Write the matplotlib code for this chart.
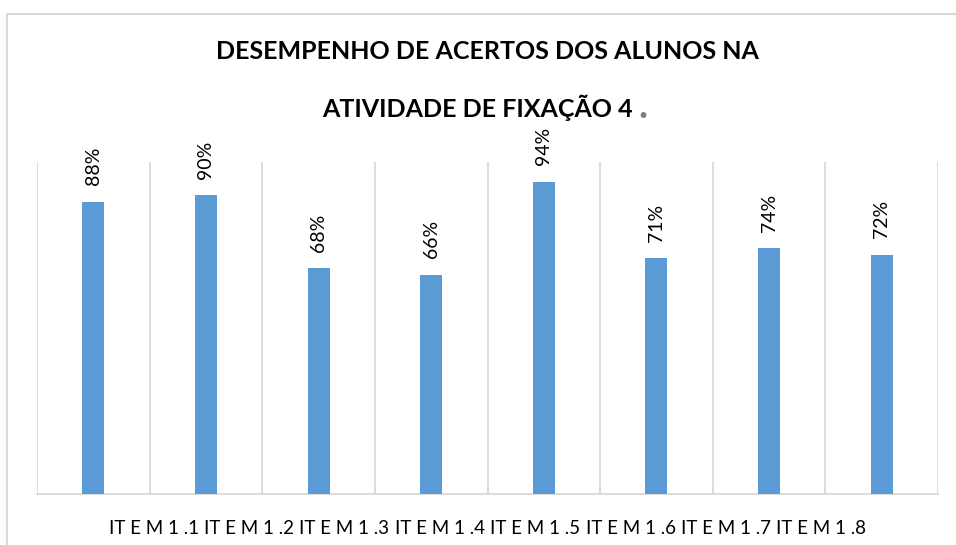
import matplotlib.pyplot as plt
from matplotlib.lines import Line2D
import numpy as np

plt.rcParams['font.family'] = ['Lato', 'DejaVu Sans']

# acertos por item (%)
itens = ['IT E M 1 .1', 'IT E M 1 .2', 'IT E M 1 .3', 'IT E M 1 .4',
         'IT E M 1 .5', 'IT E M 1 .6', 'IT E M 1 .7', 'IT E M 1 .8']
acertos = [88, 90, 68, 66, 94, 71, 74, 72]

bar_color = '#5B9BD5'
grid_color = '#D9D9D9'

fig = plt.figure(figsize=(9.56, 5.45), dpi=100)
ax = fig.add_axes([0.0387, 0.0936, 0.9425, 0.6092])

x = np.arange(len(acertos))
bars = ax.bar(x, acertos, width=0.195, color=bar_color, zorder=3)

for b, v in zip(bars, acertos):
    ax.annotate(f'{v}%', xy=(b.get_x() + b.get_width() / 2, v),
                xytext=(0, 12), textcoords='offset points',
                rotation=90, ha='center', va='bottom', fontsize=14)

# linhas verticais entre as categorias
ax.vlines(np.arange(len(acertos) + 1) - 0.5, 0, 100, color=grid_color, lw=1.3, zorder=1)

ax.set_xlim(-0.5, len(acertos) - 0.5)
ax.set_ylim(0, 100)
ax.set_yticks([])
for s in ['top', 'left', 'right']:
    ax.spines[s].set_visible(False)
ax.spines['bottom'].set_color(grid_color)
ax.spines['bottom'].set_linewidth(1.3)

# rótulos do eixo x ficam juntos no centro
centro = (len(acertos) - 1) / 2
pos = centro + (x - centro) * 0.847
ax.set_xticks(pos)
ax.set_xticklabels(itens, fontsize=13.5)
ax.tick_params(axis='x', length=0, pad=19)

fig.text(0.5095, 0.9046, 'DESEMPENHO DE ACERTOS DOS ALUNOS NA',
         ha='center', va='center', fontsize=18, fontweight='bold')
t2 = fig.text(0.499, 0.8018, 'ATIVIDADE DE FIXAÇÃO 4',
              ha='center', va='center', fontsize=18, fontweight='bold')
ax.annotate('.', xy=(1, 0), xycoords=t2, xytext=(4, -2), textcoords='offset points',
            ha='left', va='bottom', fontsize=28, fontweight='bold', color='#7F7F7F')

# moldura do gráfico
fig.add_artist(Line2D([7 / 956, 7 / 956], [0, 1 - 14 / 545], color=grid_color, lw=1.5))
fig.add_artist(Line2D([7 / 956, 1], [1 - 14 / 545, 1 - 14 / 545], color=grid_color, lw=1.5))

fig.savefig('out.png', dpi=100)
